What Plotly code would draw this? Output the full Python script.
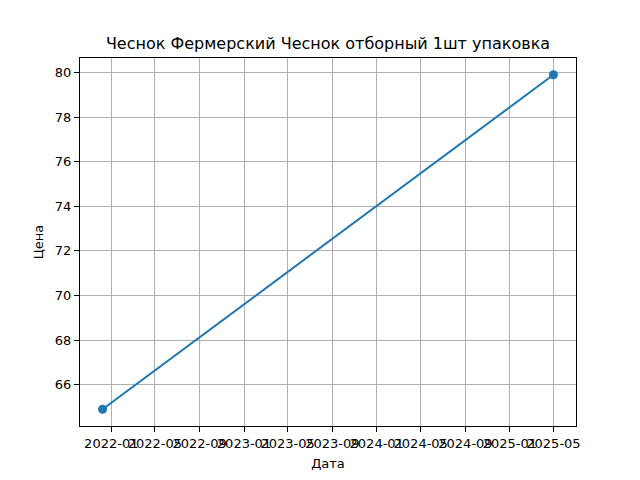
import pandas as pd
import plotly.graph_objects as go

dates = ["2021-12-08", "2025-05-01"]
prices = [64.9, 79.9]
title = "Чеснок Фермерский Чеснок отборный 1шт упаковка"

d = pd.to_datetime(dates)
pad_x = (d.max() - d.min()) * 0.05
pad_y = (max(prices) - min(prices)) * 0.05

fig = go.Figure()
fig.add_trace(go.Scatter(
    x=d, y=prices,
    mode="lines+markers",
    line=dict(color="#1f77b4", width=2),
    marker=dict(color="#1f77b4", size=9),
))

axis_style = dict(
    showline=True, linewidth=1, linecolor="black", mirror=True,
    ticks="outside", ticklen=5, tickwidth=1, tickcolor="black",
    showgrid=True, gridwidth=1, gridcolor="#b0b0b0",
    zeroline=False, automargin=False,
    tickfont=dict(size=13, color="black"),
    title_font=dict(size=13, color="black"),
)

# page body has an 8px margin, so everything sits 8px right/down
fig.update_layout(
    width=640, height=480,
    paper_bgcolor="white", plot_bgcolor="white",
    font=dict(family="DejaVu Sans", color="black"),
    showlegend=False,
    margin=dict(l=72, r=72, t=50, b=62),
    title=dict(text=title, x=0.5, xanchor="center", y=1 - 35 / 480,
               yanchor="middle", yref="container",
               font=dict(size=16, color="black")),
    xaxis=dict(
        axis_style,
        range=[d.min() - pad_x, d.max() + pad_x],
        tick0="2022-01-01", dtick="M4", tickformat="%Y-%m", tickangle=0,
        title=dict(text="Дата", standoff=9),
    ),
    yaxis=dict(
        axis_style,
        range=[min(prices) - pad_y, max(prices) + pad_y],
        dtick=2,
        title=dict(text="Цена", standoff=8),
    ),
)

fig.write_html("out.html")
